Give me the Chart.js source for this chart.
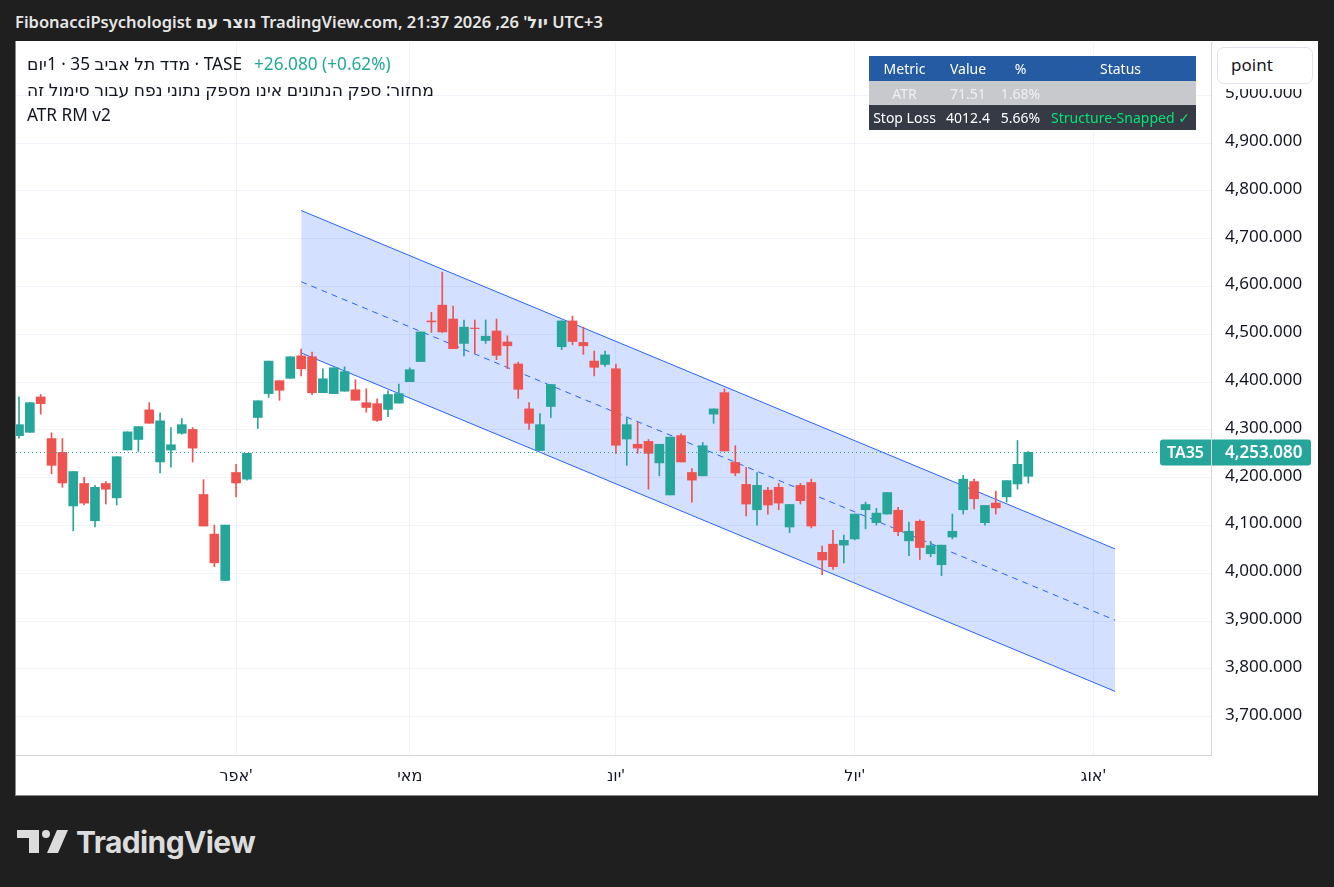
<!DOCTYPE html>
<html>
<head>
<meta charset="utf-8">
<script src="https://cdn.jsdelivr.net/npm/chart.js@4.4.1/dist/chart.umd.min.js"></script>
<style>
  html, body { margin: 0; padding: 0; }
  body { width: 1334px; height: 887px; background: #1f1f1f; position: relative; overflow: hidden;
         font-family: 'Noto Sans', 'DejaVu Sans', sans-serif; }
  #header { position: absolute; left: 15px; top: 10px; color: #e6e6e6; font-size: 16.5px; font-weight: 600; white-space: nowrap; }
  #panel { position: absolute; left: 15px; top: 41px; width: 1303px; height: 755px; background: #fff; border-left: 1px solid #8a8a8a; border-bottom: 1px solid #8a8a8a; box-sizing: border-box; }
  #chartBox { position: absolute; left: 16px; top: 42px; width: 1302px; height: 754px; }
  #legend { position: absolute; left: 27px; top: 51px; color: #131722; font-size: 17.2px; line-height: 25.5px; white-space: nowrap; }
  #legend span.t { unicode-bidi: isolate; }
  #legend .chg { color: #22ab94; margin-left: 12px; }
  #statsTable { position: absolute; left: 869px; top: 56px; border-collapse: collapse; font-size: 14px; table-layout: fixed; }
  #statsTable td { padding: 0; text-align: center; height: 24.7px; white-space: nowrap; }
  #statsTable tr.h td { background: #255ba3; color: #fff; }
  #statsTable tr.a td { background: #c8c9cc; color: #eef0f3; }
  #statsTable tr.s td { background: #363a45; color: #fff; }
  #statsTable tr.s td.ok { color: #00e676; }
  #axisCover { position: absolute; left: 1212px; top: 42px; width: 105px; height: 47px; background: #fff; }
  #pointBox { position: absolute; left: 1217px; top: 47px; width: 96px; height: 37px; box-sizing: border-box; background: #fff; border: 1px solid #e0e3eb; border-radius: 7px; font-size: 17px; color: #131722; padding-left: 13px; line-height: 34px; }
  #logo { position: absolute; left: 17px; top: 822px; height: 40px; display: flex; align-items: center; color: #dcdcdc; }
  #logo .word { font-family: Inter, 'Noto Sans', sans-serif; font-weight: 700; font-size: 30px; margin-left: 7px; letter-spacing: -0.6px; }
</style>
</head>
<body>
<div id="header">FibonacciPsychologist נוצר עם TradingView.com, יול' 26, 2026 21:37 UTC+3</div>
<div id="panel"></div>
<div id="chartBox"><canvas id="candleChart" width="1302" height="754"></canvas></div>
<div id="legend">
  <div><span class="t">מדד תל אביב 35 · 1יום · TASE</span><span class="chg">+26.080 (+0.62%)</span></div>
  <div><span class="t">מחזור: ספק הנתונים אינו מספק נתוני נפח עבור סימול זה</span></div>
  <div>ATR RM v2</div>
</div>
<table id="statsTable">
  <colgroup><col style="width:71px"><col style="width:56px"><col style="width:49px"><col style="width:151px"></colgroup>
  <tr class="h"><td>Metric</td><td>Value</td><td>%</td><td>Status</td></tr>
  <tr class="a"><td>ATR</td><td>71.51</td><td>1.68%</td><td></td></tr>
  <tr class="s"><td>Stop Loss</td><td>4012.4</td><td>5.66%</td><td class="ok">Structure-Snapped ✓</td></tr>
</table>
<div id="axisCover"></div>
<div id="pointBox">point</div>
<div id="logo">
  <svg width="52" height="24" viewBox="0 0 52 24">
    <path d="M0 0 H22 V23 H12 V8 H0 Z" fill="#dcdcdc"/>
    <circle cx="29" cy="4" r="4" fill="#dcdcdc"/>
    <path d="M40 0 H51 L41 23 H30 Z" fill="#dcdcdc"/>
  </svg>
  <span class="word">TradingView</span>
</div>

<script>
// daily candles, bar index 0 = first visible session
const opens = [4288, 4295, 4369, 4282, 4253, 4141, 4188, 4110, 4188, 4158,
    4258, 4280, 4342, 4233, 4258, 4293, 4301, 4165, 4082, 3985,
    4211, 4197, 4326, 4376, 4403, 4408, 4455, 4453, 4378, 4376,
    4381, 4384, 4357, 4355, 4343, 4356, 4401, 4443, 4528, 4561,
    4532, 4481, 4513, 4487, 4507, 4484, 4438, 4344, 4257, 4349,
    4474, 4528, 4483, 4444, 4437, 4428, 4281, 4270, 4276, 4231,
    4164, 4288, 4211, 4204, 4333, 4378, 4232, 4186, 4133, 4174,
    4180, 4097, 4184, 4190, 4044, 4061, 4059, 4072, 4133, 4106,
    4124, 4132, 4068, 4109, 4041, 4018, 4076, 4133, 4192, 4106,
    4147, 4160, 4187, 4203];
const highs = [4369, 4357, 4374, 4294, 4282, 4213, 4201, 4184, 4192, 4244,
    4296, 4307, 4357, 4336, 4305, 4324, 4305, 4196, 4101, 4101,
    4228, 4251, 4361, 4444, 4403, 4453, 4469, 4463, 4428, 4430,
    4432, 4405, 4386, 4365, 4382, 4396, 4430, 4505, 4546, 4630,
    4559, 4530, 4530, 4530, 4532, 4497, 4442, 4357, 4334, 4395,
    4528, 4538, 4515, 4465, 4465, 4438, 4326, 4317, 4280, 4270,
    4285, 4292, 4219, 4274, 4344, 4386, 4267, 4222, 4211, 4180,
    4188, 4144, 4188, 4197, 4057, 4090, 4080, 4124, 4149, 4136,
    4169, 4138, 4107, 4112, 4067, 4059, 4124, 4205, 4197, 4142,
    4172, 4194, 4278, 4255];
const lows = [4283, 4295, 4333, 4208, 4180, 4089, 4143, 4097, 4145, 4143,
    4258, 4255, 4314, 4210, 4222, 4291, 4233, 4099, 4014, 3985,
    4160, 4195, 4303, 4368, 4362, 4408, 4413, 4374, 4378, 4376,
    4381, 4362, 4337, 4318, 4328, 4356, 4401, 4443, 4504, 4504,
    4470, 4455, 4460, 4481, 4447, 4428, 4366, 4301, 4257, 4326,
    4468, 4478, 4458, 4413, 4433, 4251, 4226, 4251, 4176, 4204,
    4164, 4233, 4149, 4204, 4314, 4256, 4204, 4120, 4101, 4124,
    4133, 4085, 4145, 4095, 3997, 4008, 4022, 4070, 4093, 4101,
    4124, 4079, 4037, 4029, 4035, 3995, 4072, 4124, 4135, 4101,
    4124, 4149, 4176, 4189];
const closes = [4311, 4357, 4355, 4226, 4189, 4213, 4147, 4180, 4176, 4244,
    4296, 4307, 4314, 4319, 4269, 4311, 4262, 4099, 4022, 4101,
    4189, 4251, 4361, 4444, 4383, 4453, 4428, 4378, 4407, 4430,
    4422, 4362, 4347, 4320, 4374, 4376, 4426, 4505, 4526, 4505,
    4470, 4515, 4512, 4496, 4456, 4476, 4385, 4314, 4311, 4395,
    4528, 4485, 4476, 4431, 4457, 4268, 4311, 4262, 4251, 4270,
    4285, 4233, 4195, 4267, 4344, 4256, 4210, 4145, 4184, 4143,
    4147, 4144, 4152, 4099, 4028, 4014, 4069, 4124, 4144, 4126,
    4169, 4087, 4088, 4054, 4058, 4059, 4088, 4197, 4156, 4142,
    4137, 4194, 4228, 4253.08];

// month labels and the bar index where each month starts
const monthLabels = ["אפר'", "מאי", "יונ'", "יול'", "אוג'"];
const monthStarts = [20, 36, 55, 77, 99];

const priceTicks = [3700, 3800, 3900, 4000, 4100, 4200, 4300, 4400, 4500, 4600, 4700, 4800, 4900, 5000];

// regression channel endpoints (bar index / price)
const channelX = [26, 101];
const channelUpper = [4759, 4051];
const channelMid = [4610, 3902];
const channelLower = [4461, 3753];

const lastPrice = 4253.08;
const symbolTag = 'TA35';

const upColor = '#26a69a';
const downColor = '#ef5350';
const channelColor = '#2962ff';

const fontFamily = "'Noto Sans', 'DejaVu Sans', sans-serif";

function fmtPrice(v) {
    return v.toLocaleString('en-US', { minimumFractionDigits: 3, maximumFractionDigits: 3 });
}

// last price dotted line + badges on the price axis
const lastPricePlugin = {
    id: 'lastPrice',
    afterDraw(chart) {
        const ctx = chart.ctx;
        const area = chart.chartArea;
        const y = Math.round(chart.scales.y.getPixelForValue(lastPrice)) + 0.5;
        ctx.save();
        ctx.strokeStyle = upColor;
        ctx.lineWidth = 1;
        ctx.setLineDash([1, 3]);
        ctx.beginPath();
        ctx.moveTo(area.left, y);
        ctx.lineTo(area.right - 51, y);
        ctx.stroke();
        ctx.setLineDash([]);

        ctx.fillStyle = upColor;
        ctx.beginPath();
        ctx.roundRect(area.right - 51, y - 13, 51, 26, [3, 0, 0, 3]);
        ctx.fill();
        ctx.beginPath();
        ctx.roundRect(area.right + 1, y - 13, 99, 26, [0, 3, 3, 0]);
        ctx.fill();

        ctx.fillStyle = '#ffffff';
        ctx.textBaseline = 'middle';
        ctx.font = '600 16px ' + fontFamily;
        ctx.textAlign = 'center';
        ctx.fillText(symbolTag, area.right - 25.5, y + 1);
        ctx.font = '600 17px ' + fontFamily;
        ctx.textAlign = 'left';
        ctx.fillText(fmtPrice(lastPrice), area.right + 14, y + 1);
        ctx.restore();
    }
};

function buildChart() {
    const ctx = document.getElementById('candleChart').getContext('2d');
    const colors = closes.map((c, i) => c >= opens[i] ? upColor : downColor);

    new Chart(ctx, {
        type: 'bar',
        data: {
            datasets: [{
                // candle bodies
                data: opens.map((o, i) => ({ x: i, y: [o, closes[i]] })),
                backgroundColor: colors,
                barThickness: 9,
                grouped: false,
                order: 0
            }, {
                // wicks
                data: lows.map((l, i) => ({ x: i, y: [l, highs[i]] })),
                backgroundColor: colors,
                barThickness: 1,
                grouped: false,
                order: 1
            }, {
                type: 'line',
                data: channelX.map((x, i) => ({ x: x, y: channelUpper[i] })),
                borderColor: channelColor,
                borderWidth: 1,
                pointRadius: 0,
                fill: 4,
                backgroundColor: 'rgba(41, 98, 255, 0.2)',
                order: 3
            }, {
                type: 'line',
                data: channelX.map((x, i) => ({ x: x, y: channelMid[i] })),
                borderColor: channelColor,
                borderWidth: 1,
                borderDash: [6, 5],
                pointRadius: 0,
                fill: false,
                order: 2
            }, {
                type: 'line',
                data: channelX.map((x, i) => ({ x: x, y: channelLower[i] })),
                borderColor: channelColor,
                borderWidth: 1,
                pointRadius: 0,
                fill: false,
                order: 4
            }]
        },
        options: {
            responsive: false,
            animation: false,
            layout: { padding: 0 },
            plugins: {
                legend: { display: false },
                tooltip: { enabled: false },
                filler: { drawTime: 'beforeDatasetsDraw' }
            },
            scales: {
                x: {
                    type: 'linear',
                    min: -0.276,
                    max: 109.83,
                    offset: false,
                    afterFit: scale => {
                        scale.height = 41;
                        scale.paddingLeft = 0;
                        scale.paddingRight = 0;
                    },
                    afterBuildTicks: scale => { scale.ticks = monthStarts.map(v => ({ value: v })); },
                    grid: { color: '#f0f3fa', drawTicks: false, offset: false },
                    border: { color: '#d6d6d6' },
                    ticks: {
                        autoSkip: false,
                        maxRotation: 0,
                        padding: 12,
                        color: '#131722',
                        font: { family: fontFamily, size: 16 },
                        callback: v => monthLabels[monthStarts.indexOf(v)] || ''
                    }
                },
                y: {
                    position: 'right',
                    bounds: 'data',
                    min: 3620,
                    max: 5111.5,
                    afterFit: scale => {
                        scale.width = 107;
                        scale.paddingTop = 0;
                        scale.paddingBottom = 0;
                    },
                    afterBuildTicks: scale => { scale.ticks = priceTicks.map(v => ({ value: v })); },
                    grid: { color: '#f0f3fa', drawTicks: false },
                    border: { color: '#d6d6d6' },
                    ticks: {
                        padding: 14,
                        labelOffset: -2,
                        color: '#131722',
                        font: { family: fontFamily, size: 17 },
                        callback: v => fmtPrice(v)
                    }
                }
            }
        },
        plugins: [lastPricePlugin]
    });
}

document.addEventListener('DOMContentLoaded', buildChart);
</script>
</body>
</html>
